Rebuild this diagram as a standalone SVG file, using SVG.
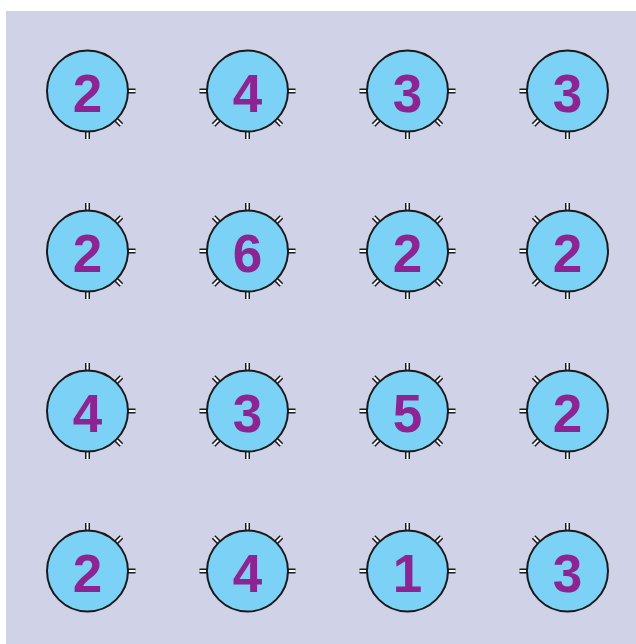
<svg xmlns="http://www.w3.org/2000/svg" xmlns:xlink="http://www.w3.org/1999/xlink" width="636" height="644" viewBox="0 0 636 644">
<style>
.bg{fill:#D0D2E8}
.c{fill:#7BD2F6;stroke:#1A1A1A;stroke-width:2}
.n{font-family:"Liberation Sans",Arial,sans-serif;font-weight:bold;font-size:53px;fill:#8E2491;text-anchor:middle}
.tb{stroke:#1A1A1A;stroke-width:5;stroke-linecap:butt}
.tw{stroke:#FFFFFF;stroke-width:2;stroke-linecap:butt}
</style>
<defs>
<g id="t"><line class="tb" x1="38" y1="0" x2="48" y2="0"/><line class="tw" x1="38" y1="0" x2="48" y2="0"/></g>
<g id="node"><circle class="c" cx="0" cy="0" r="40.5"/></g>
</defs>
<rect class="bg" x="6" y="11" width="630" height="633"/>
<g id="connectors"></g>
<g id="n00" transform="translate(87.5,91)"><use xlink:href="#t" transform="rotate(0)"/><use xlink:href="#t" transform="rotate(45)"/><use xlink:href="#t" transform="rotate(90)"/><use xlink:href="#node"/><text class="n" x="0" y="21">2</text></g>
<g id="n01" transform="translate(247.5,91)"><use xlink:href="#t" transform="rotate(0)"/><use xlink:href="#t" transform="rotate(45)"/><use xlink:href="#t" transform="rotate(90)"/><use xlink:href="#t" transform="rotate(135)"/><use xlink:href="#t" transform="rotate(180)"/><use xlink:href="#node"/><text class="n" x="0" y="21">4</text></g>
<g id="n02" transform="translate(407.5,91)"><use xlink:href="#t" transform="rotate(0)"/><use xlink:href="#t" transform="rotate(45)"/><use xlink:href="#t" transform="rotate(90)"/><use xlink:href="#t" transform="rotate(135)"/><use xlink:href="#t" transform="rotate(180)"/><use xlink:href="#node"/><text class="n" x="0" y="21">3</text></g>
<g id="n03" transform="translate(567.5,91)"><use xlink:href="#t" transform="rotate(90)"/><use xlink:href="#t" transform="rotate(135)"/><use xlink:href="#t" transform="rotate(180)"/><use xlink:href="#node"/><text class="n" x="0" y="21">3</text></g>
<g id="n10" transform="translate(87.5,251)"><use xlink:href="#t" transform="rotate(270)"/><use xlink:href="#t" transform="rotate(315)"/><use xlink:href="#t" transform="rotate(0)"/><use xlink:href="#t" transform="rotate(45)"/><use xlink:href="#t" transform="rotate(90)"/><use xlink:href="#node"/><text class="n" x="0" y="21">2</text></g>
<g id="n11" transform="translate(247.5,251)"><use xlink:href="#t" transform="rotate(0)"/><use xlink:href="#t" transform="rotate(45)"/><use xlink:href="#t" transform="rotate(90)"/><use xlink:href="#t" transform="rotate(135)"/><use xlink:href="#t" transform="rotate(180)"/><use xlink:href="#t" transform="rotate(225)"/><use xlink:href="#t" transform="rotate(270)"/><use xlink:href="#t" transform="rotate(315)"/><use xlink:href="#node"/><text class="n" x="0" y="21">6</text></g>
<g id="n12" transform="translate(407.5,251)"><use xlink:href="#t" transform="rotate(0)"/><use xlink:href="#t" transform="rotate(45)"/><use xlink:href="#t" transform="rotate(90)"/><use xlink:href="#t" transform="rotate(135)"/><use xlink:href="#t" transform="rotate(180)"/><use xlink:href="#t" transform="rotate(225)"/><use xlink:href="#t" transform="rotate(270)"/><use xlink:href="#t" transform="rotate(315)"/><use xlink:href="#node"/><text class="n" x="0" y="21">2</text></g>
<g id="n13" transform="translate(567.5,251)"><use xlink:href="#t" transform="rotate(270)"/><use xlink:href="#t" transform="rotate(90)"/><use xlink:href="#t" transform="rotate(135)"/><use xlink:href="#t" transform="rotate(180)"/><use xlink:href="#t" transform="rotate(225)"/><use xlink:href="#node"/><text class="n" x="0" y="21">2</text></g>
<g id="n20" transform="translate(87.5,411)"><use xlink:href="#t" transform="rotate(270)"/><use xlink:href="#t" transform="rotate(315)"/><use xlink:href="#t" transform="rotate(0)"/><use xlink:href="#t" transform="rotate(45)"/><use xlink:href="#t" transform="rotate(90)"/><use xlink:href="#node"/><text class="n" x="0" y="21">4</text></g>
<g id="n21" transform="translate(247.5,411)"><use xlink:href="#t" transform="rotate(0)"/><use xlink:href="#t" transform="rotate(45)"/><use xlink:href="#t" transform="rotate(90)"/><use xlink:href="#t" transform="rotate(135)"/><use xlink:href="#t" transform="rotate(180)"/><use xlink:href="#t" transform="rotate(225)"/><use xlink:href="#t" transform="rotate(270)"/><use xlink:href="#t" transform="rotate(315)"/><use xlink:href="#node"/><text class="n" x="0" y="21">3</text></g>
<g id="n22" transform="translate(407.5,411)"><use xlink:href="#t" transform="rotate(0)"/><use xlink:href="#t" transform="rotate(45)"/><use xlink:href="#t" transform="rotate(90)"/><use xlink:href="#t" transform="rotate(135)"/><use xlink:href="#t" transform="rotate(180)"/><use xlink:href="#t" transform="rotate(225)"/><use xlink:href="#t" transform="rotate(270)"/><use xlink:href="#t" transform="rotate(315)"/><use xlink:href="#node"/><text class="n" x="0" y="21">5</text></g>
<g id="n23" transform="translate(567.5,411)"><use xlink:href="#t" transform="rotate(270)"/><use xlink:href="#t" transform="rotate(90)"/><use xlink:href="#t" transform="rotate(135)"/><use xlink:href="#t" transform="rotate(180)"/><use xlink:href="#t" transform="rotate(225)"/><use xlink:href="#node"/><text class="n" x="0" y="21">2</text></g>
<g id="n30" transform="translate(87.5,571)"><use xlink:href="#t" transform="rotate(270)"/><use xlink:href="#t" transform="rotate(315)"/><use xlink:href="#t" transform="rotate(0)"/><use xlink:href="#node"/><text class="n" x="0" y="21">2</text></g>
<g id="n31" transform="translate(247.5,571)"><use xlink:href="#t" transform="rotate(180)"/><use xlink:href="#t" transform="rotate(225)"/><use xlink:href="#t" transform="rotate(270)"/><use xlink:href="#t" transform="rotate(315)"/><use xlink:href="#t" transform="rotate(0)"/><use xlink:href="#node"/><text class="n" x="0" y="21">4</text></g>
<g id="n32" transform="translate(407.5,571)"><use xlink:href="#t" transform="rotate(180)"/><use xlink:href="#t" transform="rotate(225)"/><use xlink:href="#t" transform="rotate(270)"/><use xlink:href="#t" transform="rotate(315)"/><use xlink:href="#t" transform="rotate(0)"/><use xlink:href="#node"/><text class="n" x="0" y="21">1</text></g>
<g id="n33" transform="translate(567.5,571)"><use xlink:href="#t" transform="rotate(180)"/><use xlink:href="#t" transform="rotate(225)"/><use xlink:href="#t" transform="rotate(270)"/><use xlink:href="#node"/><text class="n" x="0" y="21">3</text></g>
</svg>
